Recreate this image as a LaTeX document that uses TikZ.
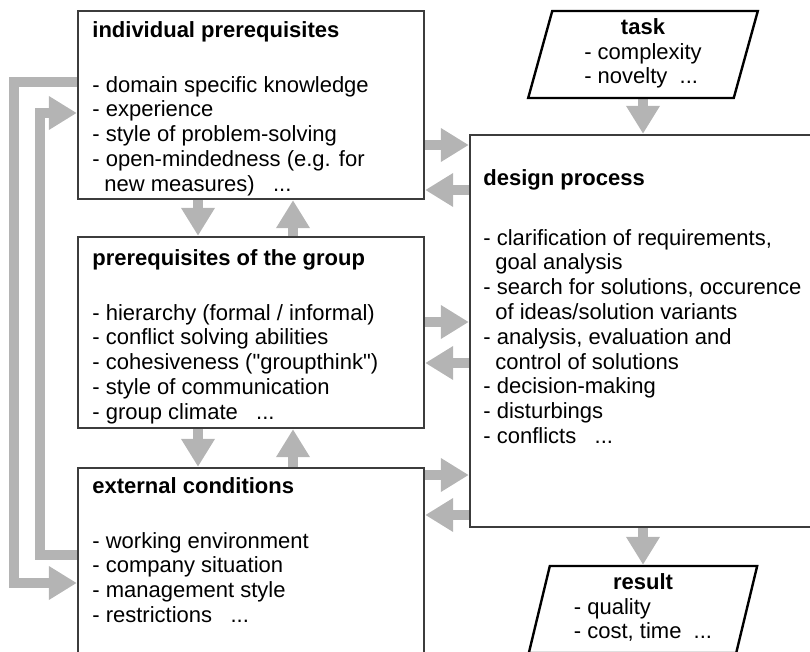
\documentclass[tikz,border=0pt]{standalone}
\usepackage{fontspec}
\setmainfont{Liberation Sans}[Ligatures=TeXOff]
\usetikzlibrary{arrows.meta,shapes.geometric,fit,backgrounds}
\definecolor{flowgray}{RGB}{180,180,180}
\definecolor{framegray}{RGB}{60,60,60}
\tikzset{
  box/.style={draw=framegray, line width=1.2bp, inner sep=0pt},
  slant/.style={trapezium, trapezium left angle=78, trapezium right angle=102,
    trapezium stretches=true, draw=black, line width=1.2bp, inner sep=0pt,
    minimum width=115bp, minimum height=43.5bp,
    font=\fontsize{11bp}{12.2bp}\selectfont},
  flow/.style={draw=flowgray, line width=5bp, line join=miter,
    -{Triangle[length=14bp,width=16bp]}},
  txt/.style={anchor=north west, align=left, inner sep=0pt,
    font=\fontsize{11bp}{12.4bp}\selectfont},
}
\newcommand{\cont}{\hspace*{6bp}}
\begin{document}
\begin{tikzpicture}[x=0.5bp,y=-0.5bp]
\useasboundingbox (0,0) rectangle (810,652);
\clip (0,0) rectangle (810,652);
% boxes
\node[box, fit={(78,11) (424,199)}] (indiv) {};
\node[box, fit={(78,237) (424,428)}] (group) {};
\node[box, fit={(78,468) (424,698)}] (extern) {};
\node[box, fit={(470,135) (815,527)}] (design) {};
\node[slant] (task) at (643,54.5) {\begin{tabular}{@{}l@{}}\multicolumn{1}{@{}c@{}}{\textbf{task}}\\- complexity\\- novelty\ \ ...\end{tabular}};
\node[slant] (result) at (643,609.5) {\begin{tabular}{@{}l@{}}\multicolumn{1}{@{}c@{}}{\textbf{result}}\\- quality\\- cost, time\ \ ...\end{tabular}};
% texts
\node[txt] (indivtxt) at (92,21) {\textbf{individual prerequisites}\\[15bp]
- domain specific knowledge\\
- experience\\
- style of problem-solving\\
- open-mindedness (e.g. for\\
\cont new measures)\ \ \ ...};
\node[txt] (grouptxt) at (92,249) {\textbf{prerequisites of the group}\\[15bp]
- hierarchy (formal / informal)\\
- conflict solving abilities\\
- cohesiveness ("groupthink")\\
- style of communication\\
- group climate\ \ \ ...};
\node[txt] (externtxt) at (92,477) {\textbf{external conditions}\\[15bp]
- working environment\\
- company situation\\
- management style\\
- restrictions\ \ \ ...};
\node[txt] (designtxt) at (483,169) {\textbf{design process}\\[17.5bp]
- clarification of requirements,\\
\cont goal analysis\\
- search for solutions, occurence\\
\cont of ideas/solution variants\\
- analysis, evaluation and\\
\cont control of solutions\\
- decision-making\\
- disturbings\\
- conflicts\ \ \ ...};
% arrows
\begin{scope}[on background layer]
\draw[flow] (indiv.east |- 0,145) -- (design.west |- 0,145);
\draw[flow] (design.west |- 0,190) -- (indiv.east |- 0,190);
\draw[flow] (group.east |- 0,322) -- (design.west |- 0,322);
\draw[flow] (design.west |- 0,363) -- (group.east |- 0,363);
\draw[flow] (extern.east |- 0,475) -- (design.west |- 0,475);
\draw[flow] (design.west |- 0,515) -- (extern.east |- 0,515);
\draw[flow] (indiv.south -| 198,0) -- (group.north -| 198,0);
\draw[flow] (group.north -| 293,0) -- (indiv.south -| 293,0);
\draw[flow] (group.south -| 198,0) -- (extern.north -| 198,0);
\draw[flow] (extern.north -| 293,0) -- (group.south -| 293,0);
\draw[flow] (task.south) -- (task.south |- design.north);
\draw[flow] (design.south -| result.north) -- (result.north);
% feedback loops
\draw[flow] (indiv.west |- 0,82) -- ++(-63,0) |- (extern.west |- 0,583);
\draw[flow] (extern.west |- 0,555) -- ++(-37,0) |- (indiv.west |- 0,113);
\end{scope}
\end{tikzpicture}
\end{document}
